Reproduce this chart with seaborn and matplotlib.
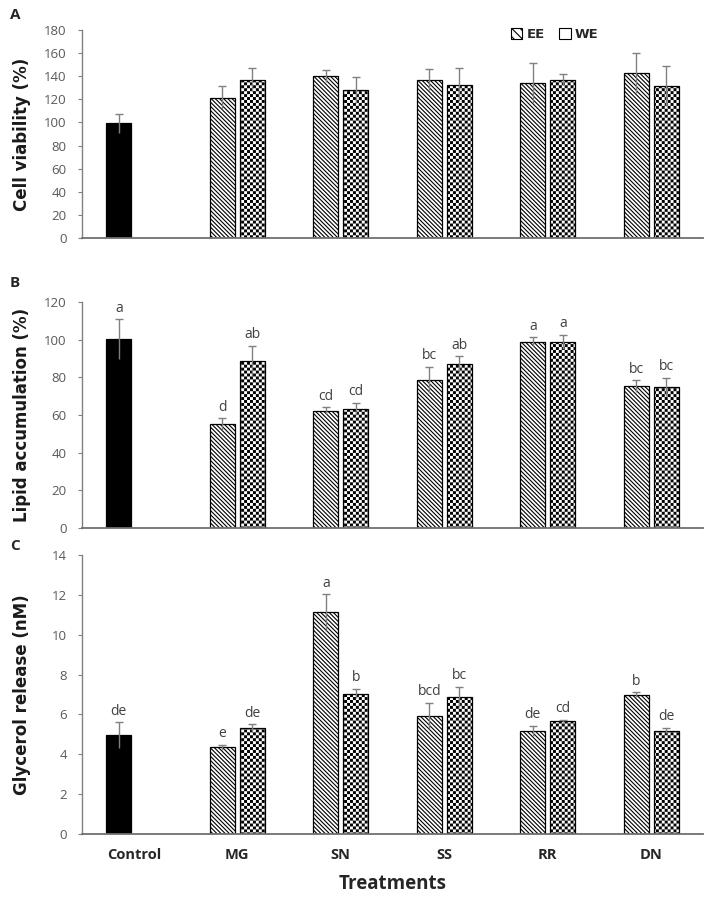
import numpy as np
import pandas as pd
import matplotlib
matplotlib.use("Agg")
import matplotlib.pyplot as plt
from matplotlib.path import Path
from matplotlib.patches import Patch
import seaborn as sns

# ---- data ----
treatments = ["Control", "MG", "SN", "SS", "RR", "DN"]
extracts = ["EE", "WE"]
herbs = treatments[1:]

# A: cell viability (%)
control_viab, control_viab_sd = 99.2, 8.0
ee_viab = [121.5, 139.9, 137.0, 133.9, 143.0]
ee_viab_sd = [10.1, 5.1, 8.9, 17.1, 17.2]
we_viab = [137.0, 128.4, 132.7, 137.0, 131.6]
we_viab_sd = [10.0, 11.2, 14.0, 4.9, 17.4]

# B: lipid accumulation (%)
control_lipid, control_lipid_sd = 100.3, 10.6
ee_lipid = [55.2, 62.3, 78.6, 98.9, 75.4]
ee_lipid_sd = [3.2, 1.8, 7.1, 2.5, 3.2]
we_lipid = [88.8, 63.4, 87.0, 98.9, 74.9]
we_lipid_sd = [8.1, 3.2, 4.2, 3.7, 5.0]
control_lipid_grp = "a"
ee_lipid_grp = ["d", "cd", "bc", "a", "bc"]
we_lipid_grp = ["ab", "cd", "ab", "a", "bc"]

# C: glycerol release (nM)
control_gly, control_gly_sd = 4.96, 0.65
ee_gly = [4.35, 11.14, 5.93, 5.19, 7.00]
ee_gly_sd = [0.12, 0.90, 0.65, 0.25, 0.12]
we_gly = [5.31, 7.05, 6.88, 5.68, 5.19]
we_gly_sd = [0.20, 0.24, 0.51, 0.05, 0.14]
control_gly_grp = "de"
ee_gly_grp = ["e", "a", "bcd", "de", "b"]
we_gly_grp = ["de", "b", "bc", "cd", "de"]

# ---- checkerboard hatch (matplotlib has none built in) ----
CHECKER = "++++"
_base_hatch = Path.hatch


def checker_path(n=34, frac=0.62):
    h = 0.5 * frac / n
    verts, codes = [], []
    for i in range(n):
        for j in range(n):
            if (i + j) % 2:
                continue
            cx, cy = (i + 0.5) / n, (j + 0.5) / n
            verts += [(cx - h, cy - h), (cx + h, cy - h), (cx + h, cy + h),
                      (cx - h, cy + h), (cx - h, cy - h)]
            codes += [Path.MOVETO, Path.LINETO, Path.LINETO, Path.LINETO, Path.CLOSEPOLY]
    return Path(np.array(verts), np.array(codes, dtype=Path.code_type))


def _hatch(pattern, density=6):
    if pattern == CHECKER:
        return checker_path()
    return _base_hatch(pattern, density)


Path.hatch = staticmethod(_hatch)
STRIPES = "\\" * 8


def make_frame(ctrl, ctrl_sd, ee, ee_sd, we, we_sd, ctrl_grp="", ee_grp=None, we_grp=None):
    ee_grp = ee_grp or [""] * len(herbs)
    we_grp = we_grp or [""] * len(herbs)
    rows = [("Control", "EE", ctrl, ctrl_sd, ctrl_grp)]
    rows += list(zip(herbs, ["EE"] * 5, ee, ee_sd, ee_grp))
    rows += list(zip(herbs, ["WE"] * 5, we, we_sd, we_grp))
    return pd.DataFrame(rows, columns=["treatment", "extract", "value", "sd", "grp"])


sns.set_style("white")
plt.rcParams["font.family"] = ["Open Sans", "DejaVu Sans"]
plt.rcParams["hatch.linewidth"] = 0.8
plt.rcParams["hatch.color"] = "black"

fig = plt.figure(figsize=(7.09, 9.0), dpi=100)
ax_a = fig.add_axes([0.1157, 0.7356, 0.8759, 0.2311])
ax_b = fig.add_axes([0.1157, 0.4133, 0.8759, 0.2511])
ax_c = fig.add_axes([0.1157, 0.0733, 0.8759, 0.3100])

panels = [
    (ax_a, make_frame(control_viab, control_viab_sd, ee_viab, ee_viab_sd, we_viab, we_viab_sd),
     180, 20, "Cell viability (%)", "A", 15),
    (ax_b, make_frame(control_lipid, control_lipid_sd, ee_lipid, ee_lipid_sd, we_lipid, we_lipid_sd,
                      control_lipid_grp, ee_lipid_grp, we_lipid_grp),
     120, 20, "Lipid accumulation (%)", "B", 283),
    (ax_c, make_frame(control_gly, control_gly_sd, ee_gly, ee_gly_sd, we_gly, we_gly_sd,
                      control_gly_grp, ee_gly_grp, we_gly_grp),
     14, 2, "Glycerol release (nM)", "C", 546),
]

for ax, df, ymax, ystep, ylabel, letter, ly in panels:
    sns.barplot(data=df, x="treatment", y="value", hue="extract",
                order=treatments, hue_order=extracts, palette=["white", "white"],
                width=0.58, gap=0.155, errorbar=None, legend=False,
                edgecolor="black", linewidth=0.9, ax=ax)
    ax.patch.set_alpha(0)

    bar_groups = list(ax.containers[:len(extracts)])
    for ext, cont in zip(extracts, bar_groups):
        for bar in cont:
            xc = bar.get_x() + bar.get_width() / 2
            tr = treatments[int(round(xc))]
            row = df[(df.treatment == tr) & (df.extract == ext)].iloc[0]
            if tr == "Control":
                bar.set_facecolor("black")
                bar.set_hatch(None)
            else:
                bar.set_facecolor("white")
                bar.set_hatch(STRIPES if ext == "EE" else CHECKER)
            eb = ax.errorbar(xc, row.value, yerr=row.sd, fmt="none", ecolor="#808080",
                             elinewidth=1.0, capsize=2.8, capthick=1.0, zorder=3)
            eb[1][0].set_visible(False)
            if row.grp:
                ax.annotate(row.grp, (xc, row.value + row.sd), xytext=(0, 2.5),
                            textcoords="offset points", ha="center", va="bottom",
                            fontsize=10, color="#404040")

    ax.set_xlim(-0.5, len(treatments) - 0.5)
    ax.set_ylim(0, ymax)
    ax.set_yticks(np.arange(0, ymax + ystep / 2, ystep))
    ax.tick_params(axis="y", length=3, width=0.8, color="#808080", pad=8,
                   labelsize=9.5, labelcolor="#595959", left=True)
    ax.tick_params(axis="x", length=0)
    for side in ["top", "right"]:
        ax.spines[side].set_visible(False)
    ax.spines["left"].set_color("#808080")
    ax.spines["left"].set_linewidth(1.0)
    ax.spines["bottom"].set_color("#707070")
    ax.spines["bottom"].set_linewidth(1.3)
    ax.set_ylabel(ylabel, family="DejaVu Sans", fontsize=12, fontweight="bold", color="#1a1a1a")
    ax.yaxis.set_label_coords(-0.082, 0.5)
    ax.set_xlabel("")
    fig.text(10 / 709, 1 - ly / 900, letter, fontsize=11, fontweight="bold", va="center",
             zorder=10)

ax_a.set_xticklabels([])
ax_b.set_xticklabels([])
ax_c.tick_params(axis="x", pad=10)
for lab in ax_c.get_xticklabels():
    lab.set_fontsize(10.5)
    lab.set_fontweight("bold")
    lab.set_color("#262626")
ax_c.set_xlabel("Treatments", fontsize=13.5, fontweight="bold", color="#262626")
ax_c.xaxis.set_label_coords(0.5, -0.143)

handles = [Patch(facecolor="white", edgecolor="black", hatch="\\\\\\\\", linewidth=0.8),
           Patch(facecolor="white", edgecolor="black", linewidth=0.8)]
ax_a.legend(handles, extracts, loc="center left", bbox_to_anchor=(0.69, 0.98),
            ncol=2, frameon=False, borderpad=0, borderaxespad=0,
            handlelength=0.9, handleheight=0.9, handletextpad=0.3, columnspacing=1.1,
            prop={"family": "DejaVu Sans", "weight": "bold", "size": 9.5})

fig.savefig("out.png", dpi=100, facecolor="white")
